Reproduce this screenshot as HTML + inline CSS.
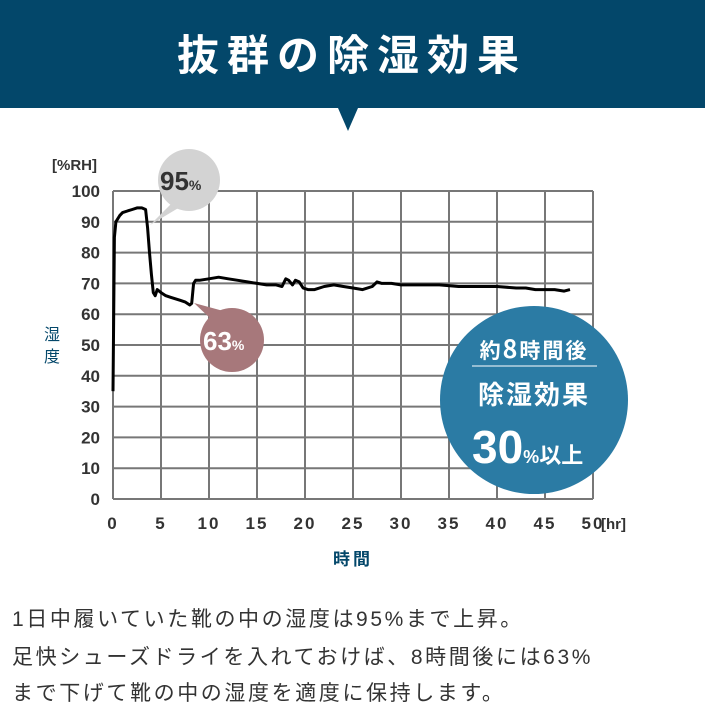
<!DOCTYPE html>
<html><head><meta charset="utf-8"><style>
body{margin:0;width:705px;height:724px;background:#fff;overflow:hidden;font-family:"Liberation Sans","Noto Sans CJK JP",sans-serif}
svg{position:absolute;left:0;top:0}
.cap{position:absolute;left:12px;font-size:21px;color:#333;letter-spacing:2.6px;white-space:nowrap;font-family:"Liberation Sans","Noto Sans CJK JP",sans-serif}
</style></head><body>
<svg width="705" height="724">
<rect x="0" y="0" width="705" height="108" fill="#03476a"/>
<polygon points="338,108 358,108 348,131" fill="#03476a"/>
<text x="352" y="70" text-anchor="middle" fill="#fff" font-size="42" font-weight="bold" letter-spacing="8" font-family="Noto Sans CJK JP, sans-serif">抜群の除湿効果</text>
<g id="grid"></g>
<g id="ticks" font-family="Liberation Sans, sans-serif" font-weight="bold" font-size="17" fill="#333"></g>
<text x="52" y="170" font-size="15" font-weight="bold" fill="#333">[%RH]</text>
<text x="601" y="529" font-size="15" font-weight="bold" fill="#333">[hr]</text>
<text x="44" y="340" font-size="16" fill="#03476a" font-family="Noto Sans CJK JP, sans-serif">湿</text>
<text x="44" y="362" font-size="16" fill="#03476a" font-family="Noto Sans CJK JP, sans-serif">度</text>
<text x="353" y="565" text-anchor="middle" font-size="17" font-weight="bold" fill="#03476a" letter-spacing="3" font-family="Noto Sans CJK JP, sans-serif">時間</text>
<path id="line" fill="none" stroke="#000" stroke-width="3" stroke-linejoin="round"/>
<g>
<polygon points="175,200 200,195 150,225" fill="#d3d3d3"/>
<circle cx="189" cy="180" r="31" fill="#d3d3d3"/>
<text x="160" y="190" font-size="26" font-weight="bold" fill="#333">95<tspan font-size="14">%</tspan></text>
</g>
<g>
<polygon points="212,320 238,315 194,303" fill="#a7787b"/>
<circle cx="232" cy="340" r="32" fill="#a7787b"/>
<text x="203" y="350" font-size="26" font-weight="bold" fill="#fff">63<tspan font-size="14">%</tspan></text>
</g>
<g>
<circle cx="534" cy="400" r="94" fill="#2b7ba4"/>
<text x="534" y="358" text-anchor="middle" font-size="21" font-weight="bold" fill="#fff" font-family="Noto Sans CJK JP, sans-serif" letter-spacing="2">約<tspan font-size="25">8</tspan>時間後</text>
<line x1="472" y1="366" x2="597" y2="366" stroke="#fff" stroke-width="1"/>
<text x="534" y="404" text-anchor="middle" font-size="26" font-weight="bold" fill="#fff" font-family="Noto Sans CJK JP, sans-serif" letter-spacing="2">除湿効果</text>
<text x="472" y="463" font-size="46" font-weight="bold" fill="#fff">30<tspan font-size="18">%</tspan><tspan font-size="22" font-family="Noto Sans CJK JP, sans-serif">以上</tspan></text>
</g>
</svg>
<div class="cap" style="top:603px">1日中履いていた靴の中の湿度は95%まで上昇。</div>
<div class="cap" style="top:641px">足快シューズドライを入れておけば、8時間後には63%</div>
<div class="cap" style="top:677px">まで下げて靴の中の湿度を適度に保持します。</div>
<script>
const xTicks=[0,5,10,15,20,25,30,35,40,45,50];
const yTicks=[0,10,20,30,40,50,60,70,80,90,100];
const hours=[0,0.15,0.3,0.7,1,1.5,2,2.5,3,3.4,3.6,3.8,4,4.2,4.4,4.6,5,5.5,6,6.5,7,7.5,8,8.2,8.4,8.6,9,10,11,12,13,14,15,16,17,17.6,18,18.3,18.7,19,19.4,19.8,20.3,21,22,23,24,25,26,27,27.5,28,29,30,32,34,36,38,40,42,43,44,45,46,47,47.6];
const humidity=[35,85,90,92,93,93.5,94,94.5,94.5,94,88,80,73,67,66,68,67,66,65.5,65,64.5,64,63,63.5,70,71,71,71.5,72,71.5,71,70.5,70,69.5,69.5,69,71.5,71,69.5,71,70.5,68.5,68,68,69,69.5,69,68.5,68,69,70.5,70,70,69.5,69.5,69.5,69,69,69,68.5,68.5,68,68,68,67.5,68];
const X=v=>113+v*(593-113)/50, Y=v=>499-v*(499-191)/100;
const ns="http://www.w3.org/2000/svg";
const g=document.getElementById('grid'), t=document.getElementById('ticks');
xTicks.forEach(v=>{
 const l=document.createElementNS(ns,'line');
 
 
 l.setAttribute('x1',X(v));l.setAttribute('x2',X(v));l.setAttribute('y1',Y(0));l.setAttribute('y2',Y(100));
 l.setAttribute('stroke','#777');l.setAttribute('stroke-width','2');g.appendChild(l);
 const s=document.createElementNS(ns,'text');
 
 
 s.setAttribute('x',X(v));s.setAttribute('y',529);s.setAttribute('text-anchor','middle');s.setAttribute('letter-spacing','2');
 s.textContent=v;t.appendChild(s);
});
yTicks.forEach(v=>{
 const l=document.createElementNS(ns,'line');
 
 
 l.setAttribute('x1',X(0));l.setAttribute('x2',X(50));l.setAttribute('y1',Y(v));l.setAttribute('y2',Y(v));
 l.setAttribute('stroke','#777');l.setAttribute('stroke-width','2');g.appendChild(l);
 const s=document.createElementNS(ns,'text');
 
 
 s.setAttribute('x',100);s.setAttribute('y',Y(v)+6);s.setAttribute('text-anchor','end');
 s.textContent=v;t.appendChild(s);
});
document.getElementById('line').setAttribute('d',hours.map((h,i)=>(i?'L':'M')+X(h).toFixed(1)+','+Y(humidity[i]).toFixed(1)).join(''));
</script>
</body></html>
